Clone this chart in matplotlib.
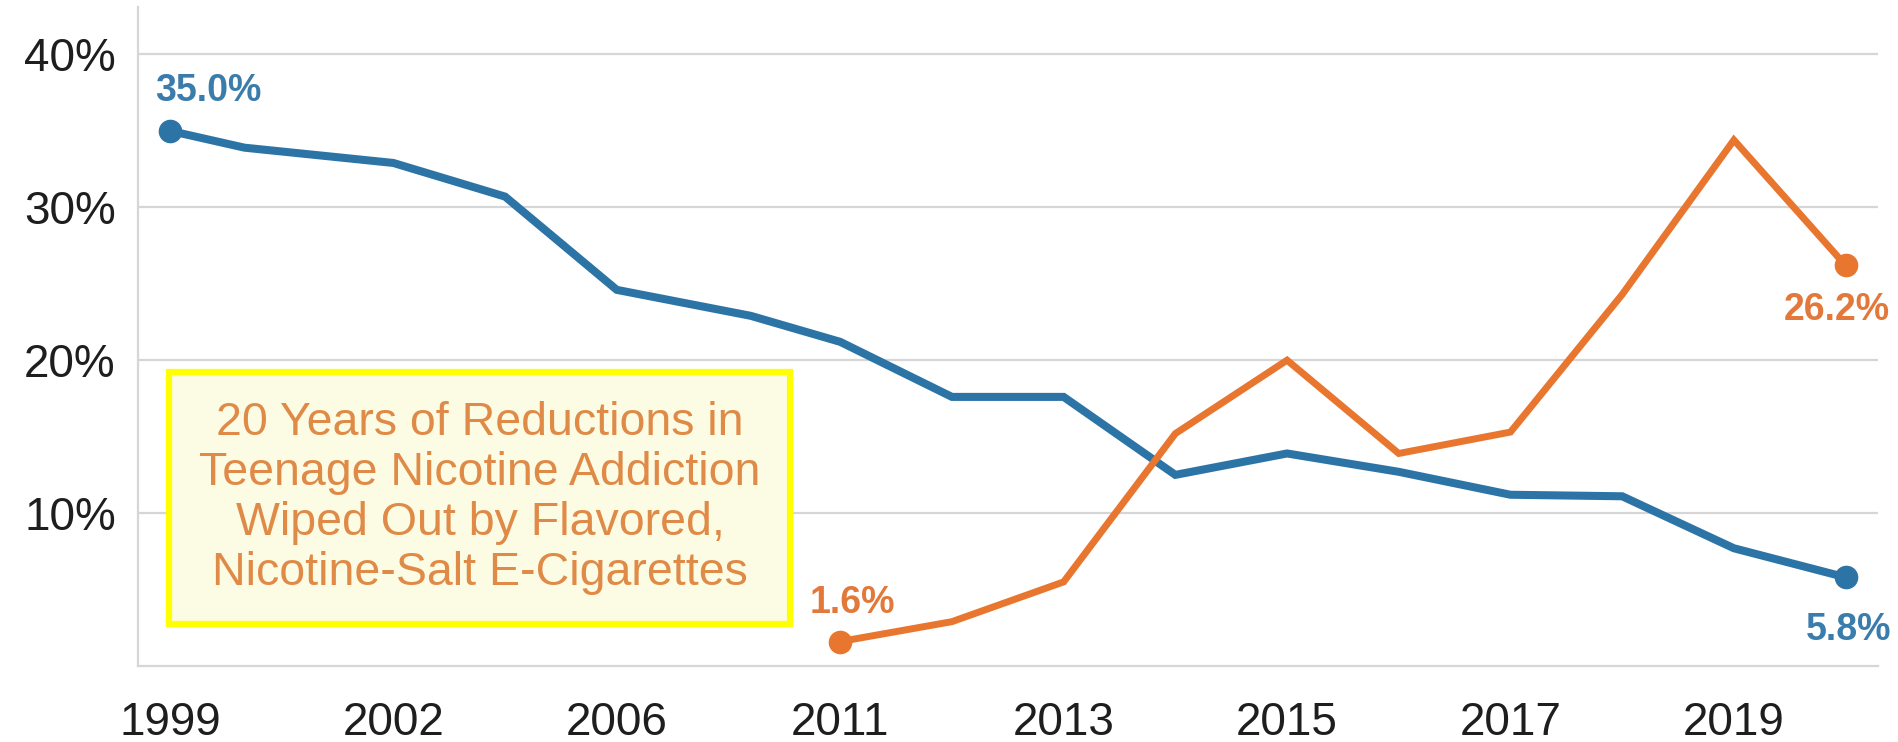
import numpy as np
import matplotlib
matplotlib.use("Agg")
import matplotlib.pyplot as plt
from matplotlib.patches import Rectangle

# data (percent)
blue_years = [1999, 2000, 2002, 2004, 2006, 2009, 2011, 2012, 2013, 2014, 2015, 2016, 2017, 2018, 2019, 2020]
blue_vals = [35.0, 33.9, 32.9, 30.7, 24.6, 22.9, 21.2, 17.6, 17.6, 12.5, 13.9, 12.7, 11.2, 11.1, 7.7, 5.8]

orange_years = [2011, 2012, 2013, 2014, 2015, 2016, 2017, 2018, 2019, 2020]
orange_vals = [1.6, 2.9, 5.5, 15.2, 20.0, 13.9, 15.3, 24.3, 34.4, 26.2]

tick_years = [1999, 2002, 2006, 2011, 2013, 2015, 2017, 2019]
y_ticks = [10, 20, 30, 40]
y_tick_labels = ["10%", "20%", "30%", "40%"]

box_text = ("20 Years of Reductions in\nTeenage Nicotine Addiction\n"
            "Wiped Out by Flavored,\nNicotine-Salt E-Cigarettes")

BLUE = "#2d74a6"
ORANGE = "#e8762f"
BLUE_TXT = "#3a7cab"
ORANGE_TXT = "#e2793a"
GRID = "#d6d6d6"

plt.rcParams['font.family'] = ['Liberation Sans', 'DejaVu Sans']

# uneven year axis: the labelled years are evenly spaced
anchor_years = np.array([1998, 1999, 2002, 2006, 2011, 2013, 2015, 2017, 2019, 2021], dtype=float)
anchor_pos = np.array([-1 / 3, 0, 1, 2, 3, 4, 5, 6, 7, 8], dtype=float)


def fwd(x):
    return np.interp(x, anchor_years, anchor_pos)


def inv(p):
    return np.interp(p, anchor_pos, anchor_years)


fig = plt.figure(figsize=(18.98, 7.42), dpi=100)
ax = fig.add_axes([138 / 1898, 76 / 742, (1878 - 138) / 1898, (666 - 7) / 742])
ax.set_xscale('function', functions=(fwd, inv))
ax.set_xlim(inv(-0.143), inv(7.645))
ax.set_ylim(0, 43.1)

ax.set_xticks(tick_years)
ax.set_xticklabels([str(y) for y in tick_years])
ax.xaxis.set_minor_locator(matplotlib.ticker.NullLocator())
ax.set_yticks(y_ticks)
ax.set_yticklabels(y_tick_labels)
ax.tick_params(axis='x', length=0, pad=25, labelsize=33, labelcolor="#1e1e1e")
ax.tick_params(axis='y', length=0, pad=16, labelsize=33, labelcolor="#1e1e1e")

ax.grid(axis='y', color=GRID, linewidth=1.6)
ax.set_axisbelow(True)
for s in ['top', 'right']:
    ax.spines[s].set_visible(False)
for s in ['left', 'bottom']:
    ax.spines[s].set_color(GRID)
    ax.spines[s].set_linewidth(1.6)

ax.plot(blue_years, blue_vals, color=BLUE, lw=5.8, solid_joinstyle='miter', zorder=3)
ax.plot([blue_years[0], blue_years[-1]], [blue_vals[0], blue_vals[-1]], 'o',
        color=BLUE, ms=16, zorder=4)
ax.plot(orange_years, orange_vals, color=ORANGE, lw=5.0, solid_joinstyle='miter', zorder=3)
ax.plot([orange_years[0], orange_years[-1]], [orange_vals[0], orange_vals[-1]], 'o',
        color=ORANGE, ms=16, zorder=4)

lab = dict(fontsize=27, fontweight='bold', va='center', textcoords='offset points')
ax.annotate(f"{blue_vals[0]:.1f}%", (blue_years[0], blue_vals[0]), xytext=(-11, 29),
            ha='left', color=BLUE_TXT, **lab)
ax.annotate(f"{blue_vals[-1]:.1f}%", (blue_years[-1], blue_vals[-1]), xytext=(33, -38),
            ha='right', color=BLUE_TXT, **lab)
ax.annotate(f"{orange_vals[0]:.1f}%", (orange_years[0], orange_vals[0]), xytext=(-22, 28),
            ha='left', color=ORANGE_TXT, **lab)
ax.annotate(f"{orange_vals[-1]:.1f}%", (orange_years[-1], orange_vals[-1]), xytext=(32, -32),
            ha='right', color=ORANGE_TXT, **lab)

# yellow framed note box
rect = Rectangle((169 / 1898, (742 - 624) / 742), (790 - 169) / 1898, (624 - 372) / 742,
                 transform=fig.transFigure, facecolor="#fcfce4", edgecolor="#ffff00",
                 linewidth=4.5, zorder=5)
fig.patches.append(rect)
fig.text(480 / 1898, (742 - 498) / 742, box_text, ha='center', va='center',
         fontsize=33.5, color="#e08a48", linespacing=1.17, zorder=6)

fig.savefig("out.png", dpi=100)
